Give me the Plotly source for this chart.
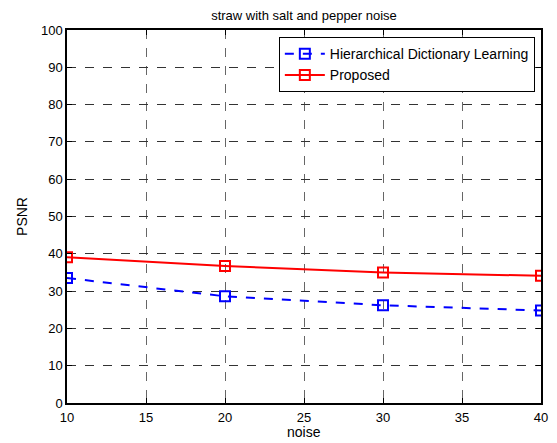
import plotly.graph_objects as go

noise = [10, 20, 30, 40]
hdl_psnr = [33.5, 28.6, 26.2, 24.8]
proposed_psnr = [39.1, 36.7, 35.0, 34.1]
x_ticks = [10, 15, 20, 25, 30, 35, 40]
y_ticks = [0, 10, 20, 30, 40, 50, 60, 70, 80, 90, 100]

FONT = "Liberation Sans, Arial"

fig = go.Figure()
fig.add_trace(go.Scatter(
    x=noise, y=hdl_psnr, mode="lines+markers",
    name="Hierarchical Dictionary Learning",
    line=dict(color="#0000ff", width=2, dash="dash"),
    marker=dict(symbol="square-open", size=10, color="#0000ff", line=dict(width=2, color="#0000ff")),
))
fig.add_trace(go.Scatter(
    x=noise, y=proposed_psnr, mode="lines+markers",
    name="Proposed",
    line=dict(color="#ff0000", width=2),
    marker=dict(symbol="square-open", size=10, color="#ff0000", line=dict(width=2, color="#ff0000")),
))

axis_common = dict(
    showline=True, linecolor="black", linewidth=1.5, mirror="ticks",
    showgrid=True, griddash="dash", gridwidth=1,
    zeroline=False, ticks="inside", ticklen=5, tickcolor="black",
    tickfont=dict(family=FONT, size=13, color="black"),
    automargin=False,
)

fig.update_xaxes(range=[10, 40], tickvals=x_ticks, ticktext=[str(v) for v in x_ticks],
                 gridcolor="#666666", ticklabelstandoff=2, **axis_common)
fig.update_yaxes(range=[0, 100], tickvals=y_ticks, ticktext=[str(v) for v in y_ticks],
                 gridcolor="#333333",
                 title=dict(text="PSNR", font=dict(family=FONT, size=14, color="black"), standoff=10),
                 **axis_common)

fig.add_annotation(text="noise", xref="paper", yref="paper", x=0.5, y=-0.078,
                   xanchor="center", yanchor="middle", showarrow=False,
                   font=dict(family=FONT, size=14, color="black"))

# page has an 8px body margin; the figure is offset by it
fig.update_layout(
    width=541, height=435,
    margin=dict(l=59, r=8, t=22, b=40, autoexpand=False),
    paper_bgcolor="white", plot_bgcolor="white",
    title=dict(text="straw with salt and pepper noise", x=0.5, xref="paper", xanchor="center",
               y=0.9835, yanchor="middle",
               font=dict(family=FONT, size=13, color="black")),
    legend=dict(x=0.987, y=0.981, xanchor="right", yanchor="top",
                bgcolor="white", bordercolor="black", borderwidth=1,
                font=dict(family=FONT, size=14, color="black"),
                itemwidth=40, tracegroupgap=0),
    showlegend=True,
)

fig.write_html("out.html")
